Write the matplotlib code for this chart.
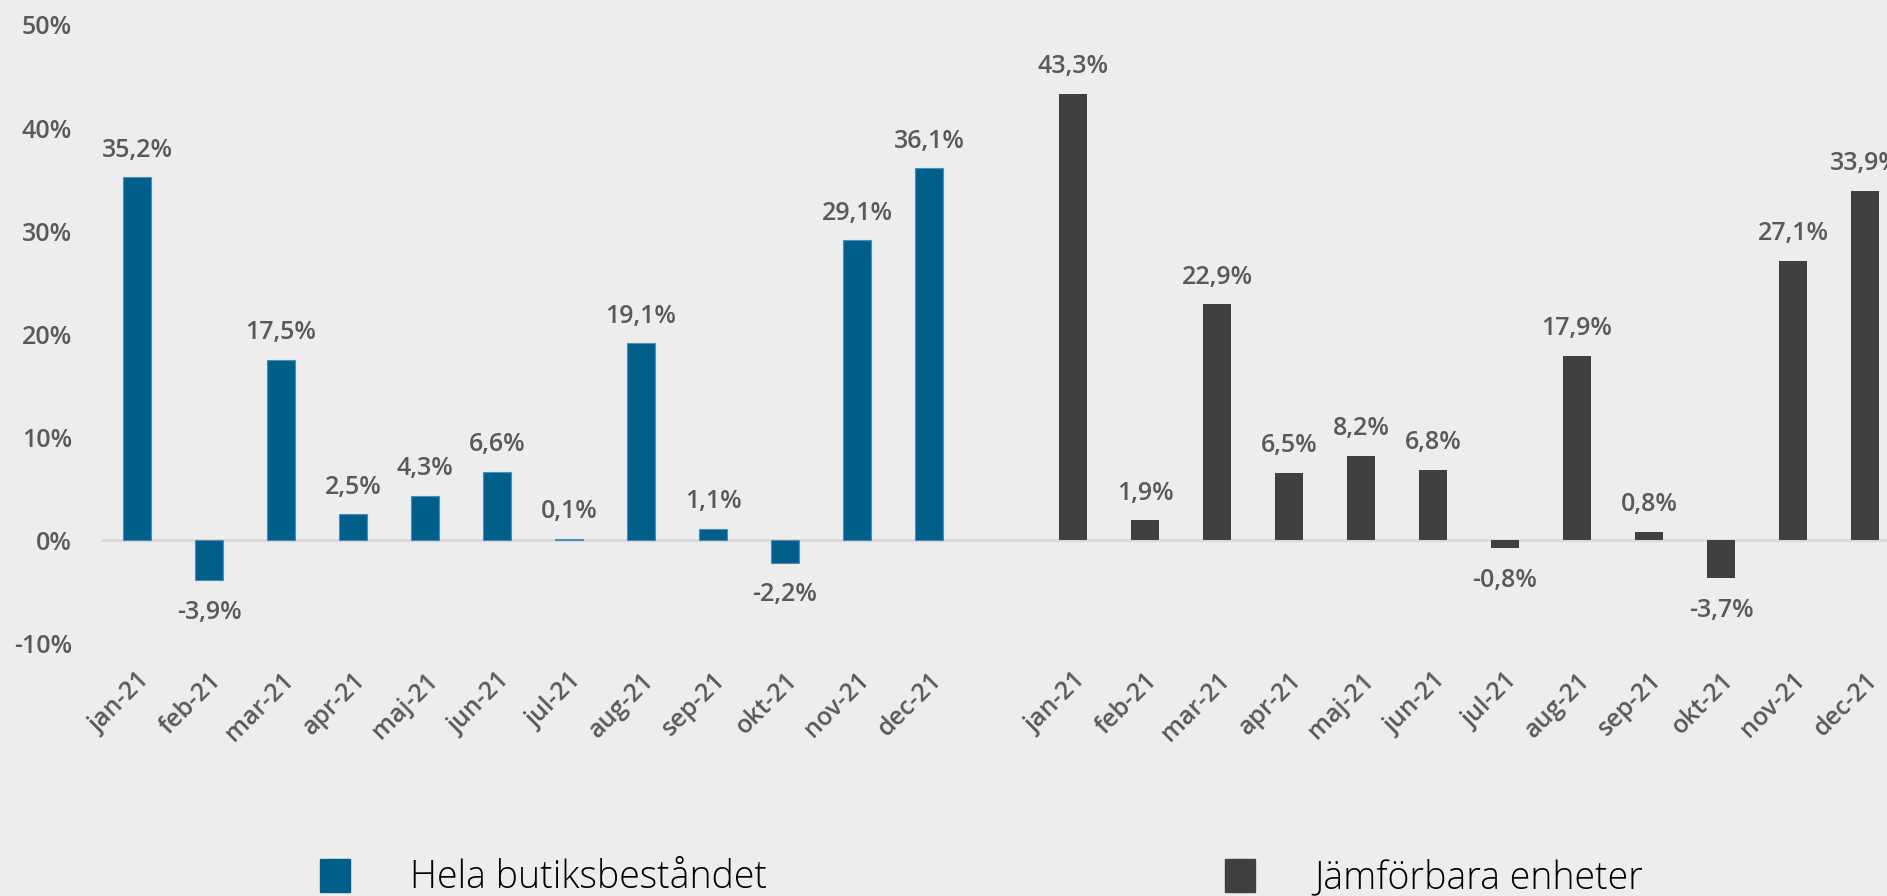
import numpy as np
import matplotlib
matplotlib.use("Agg")
import matplotlib.pyplot as plt
from matplotlib.patches import Patch

months = ["jan-21", "feb-21", "mar-21", "apr-21", "maj-21", "jun-21",
          "jul-21", "aug-21", "sep-21", "okt-21", "nov-21", "dec-21"]
hela = [35.2, -3.9, 17.5, 2.5, 4.3, 6.6, 0.1, 19.1, 1.1, -2.2, 29.1, 36.1]
jamf = [43.3, 1.9, 22.9, 6.5, 8.2, 6.8, -0.8, 17.9, 0.8, -3.7, 27.1, 33.9]
series_names = ["Hela butiksbeståndet", "Jämförbara enheter"]
yticks = [-10, 0, 10, 20, 30, 40, 50]

blue = "#005F8A"
dark = "#404040"
bg = "#EDEDED"
txt = "#595959"

plt.rcParams['font.family'] = ['Open Sans', 'DejaVu Sans']

fig = plt.figure(figsize=(18.87, 8.96), dpi=100, facecolor=bg)
ax = fig.add_axes([101 / 1887, 1 - 643 / 896, 1800 / 1887, 618 / 896])
ax.set_facecolor(bg)

x1 = np.arange(12)
x2 = np.arange(12) + 13
w = 0.4
ax.bar(x1, hela, width=w, color=blue, edgecolor="#4E8FB0", linewidth=0.8, zorder=3)
ax.bar(x2, jamf, width=w, color=dark, zorder=3)

ax.axhline(0, color="#D9D9D9", lw=2, zorder=2)

def label(xs, vals):
    for x, v in zip(xs, vals):
        s = f"{v:.1f}%".replace(".", ",")
        off = 19.5 if v >= 0 else -23
        ax.annotate(s, (x, v), xytext=(0, off), textcoords="offset points",
                    ha="center", va="center", fontsize=18, color=txt,
                    fontweight="semibold", annotation_clip=False)

label(x1, hela)
label(x2, jamf)

ax.set_xlim(-0.5, 24.5)
ax.set_ylim(-10, 50)
ax.set_yticks(yticks)
ax.set_yticklabels([f"{t}%" for t in yticks], fontsize=18, color=txt,
                   fontweight="semibold")
ax.set_xticks(list(x1) + list(x2))
ax.set_xticklabels(months + months, rotation=45, ha="right",
                   rotation_mode="anchor", fontsize=18, color=txt,
                   fontweight="semibold")
ax.tick_params(axis="y", length=0, pad=21)
ax.tick_params(axis="x", length=0, pad=18)
for sp in ax.spines.values():
    sp.set_visible(False)

handles = [Patch(color=blue), Patch(color=dark)]
fig.legend(handles, series_names, loc="center left",
           bbox_to_anchor=(320 / 1887, 1 - 878 / 896), ncol=2, frameon=False,
           handlelength=0.8, handleheight=1.0,
           handletextpad=1.6, columnspacing=12.2, borderpad=0,
           borderaxespad=0, prop={"size": 27, "weight": "light"})

fig.savefig("out.png", dpi=100, facecolor=bg)
